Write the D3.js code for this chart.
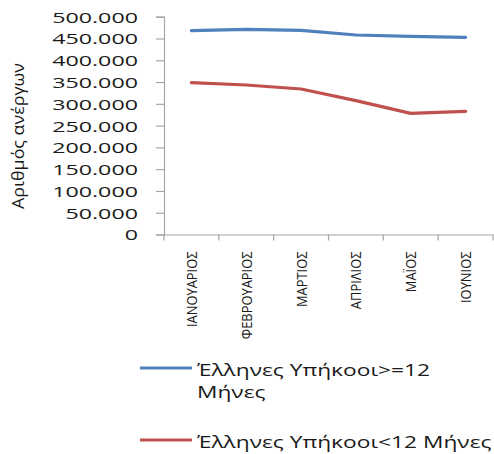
<!DOCTYPE html>
<html>
<head>
<meta charset="utf-8">
<script src="https://cdn.jsdelivr.net/npm/d3@7"></script>
<style>
  html, body { margin: 0; padding: 0; background: #fff; }
  svg { display: block; }
  text { font-family: "Open Sans", "DejaVu Sans", sans-serif; fill: #1a1a1a; }
</style>
</head>
<body>
<svg id="chart" width="494" height="454"></svg>
<script>
// ---- data ----
const months = ["ΙΑΝΟΥΑΡΙΟΣ", "ΦΕΒΡΟΥΑΡΙΟΣ", "ΜΑΡΤΙΟΣ", "ΑΠΡΙΛΙΟΣ", "ΜΑΪΟΣ", "ΙΟΥΝΙΟΣ"];
const longTerm = [467900, 471000, 468800, 458000, 455000, 452700];
const shortTerm = [348500, 343200, 334000, 307200, 278200, 282800];
const seriesNames = ["Έλληνες Υπήκοοι>=12 Μήνες", "Έλληνες Υπήκοοι<12 Μήνες"];
const yTicks = [0, 50000, 100000, 150000, 200000, 250000, 300000, 350000, 400000, 450000, 500000];
const yTitle = "Αριθμός ανέργων";

// ---- layout ----
const W = 494, H = 454;
const plotLeft = 164, plotRight = 493, plotTop = 16.7, plotBottom = 234.5;
const colors = ["#4F81BD", "#C0504D"];
const axisColor = "#a6a6a6";
const SX = 1.42; // horizontal stretch of legend text
const SXY = 1.55; // horizontal stretch of y tick labels
const SXL = 0.86; // length factor for rotated category labels

const svg = d3.select("#chart");

const x = d3.scaleBand().domain(months).range([plotLeft, plotRight]).padding(0);
const y = d3.scaleLinear().domain([0, 500000]).range([plotBottom, plotTop]);

const locale = d3.formatLocale({decimal: ",", thousands: ".", grouping: [3], currency: ["", "€"]});
const fmt = locale.format(",d");

function stretch(sel, f) {
  sel.each(function() {
    const n = this.getComputedTextLength();
    d3.select(this).attr("textLength", n * f).attr("lengthAdjust", "spacingAndGlyphs");
  });
}

// y axis
const yAxis = svg.append("g")
  .attr("transform", `translate(${plotLeft},0)`)
  .call(d3.axisLeft(y).tickValues(yTicks).tickSize(8).tickPadding(18).tickFormat(fmt));
yAxis.select(".domain").attr("stroke", axisColor).attr("stroke-width", 1.2);
yAxis.selectAll(".tick line").attr("stroke", axisColor).attr("stroke-width", 1.2);
yAxis.selectAll(".tick text")
  .attr("font-size", 15).attr("font-family", "'Open Sans', sans-serif").attr("fill", "#1a1a1a")
  .attr("dy", "0.36em");
stretch(yAxis.selectAll(".tick text"), SXY);

// x axis
const xAxis = svg.append("g")
  .attr("transform", `translate(0,${plotBottom})`)
  .call(d3.axisBottom(x).tickSize(0).tickPadding(0));
xAxis.select(".domain").attr("stroke", axisColor).attr("stroke-width", 1.2);
xAxis.selectAll(".tick text")
  .attr("font-size", 15).attr("font-family", "'Open Sans', sans-serif").attr("fill", "#1a1a1a")
  .attr("text-anchor", "end")
  .attr("transform", "translate(5.5,17) rotate(-90)")
  .attr("dy", 0).attr("y", 0).attr("x", 0);
stretch(xAxis.selectAll(".tick text"), SXL);
// boundary tick marks
const bounds = months.map(m => x(m)).concat([x(months[months.length - 1]) + x.bandwidth()]);
xAxis.selectAll("line.bt").data(bounds).join("line")
  .attr("class", "bt")
  .attr("x1", d => d).attr("x2", d => d)
  .attr("y1", 0).attr("y2", 6)
  .attr("stroke", axisColor).attr("stroke-width", 1.2);

// y title
svg.append("text")
  .attr("transform", `translate(24,136) rotate(-90)`)
  .attr("text-anchor", "middle")
  .attr("font-size", 17)
  .attr("textLength", 146).attr("lengthAdjust", "spacingAndGlyphs")
  .text(yTitle);

// lines
const line = d3.line().x((d, i) => x(months[i]) + x.bandwidth() / 2).y(d => y(d));
[longTerm, shortTerm].forEach((s, i) => {
  svg.append("path").datum(s)
    .attr("fill", "none").attr("stroke", colors[i]).attr("stroke-width", 3.2)
    .attr("stroke-linejoin", "round").attr("stroke-linecap", "round")
    .attr("d", line);
});

// legend
const lg = svg.append("g");
const legendRows = [
  {y: 368, lines: ["Έλληνες Υπήκοοι>=12", "Μήνες"]},
  {y: 440, lines: [seriesNames[1]]}
];
legendRows.forEach((r, i) => {
  lg.append("line").attr("x1", 140).attr("x2", 192).attr("y1", r.y).attr("y2", r.y)
    .attr("stroke", colors[i]).attr("stroke-width", 3.2);
  r.lines.forEach((t, j) => {
    const tx = lg.append("text").attr("x", 197).attr("y", r.y + 7.5 + j * 22)
      .attr("font-size", 16).text(t);
    stretch(tx, SX);
  });
});
</script>
</body>
</html>
